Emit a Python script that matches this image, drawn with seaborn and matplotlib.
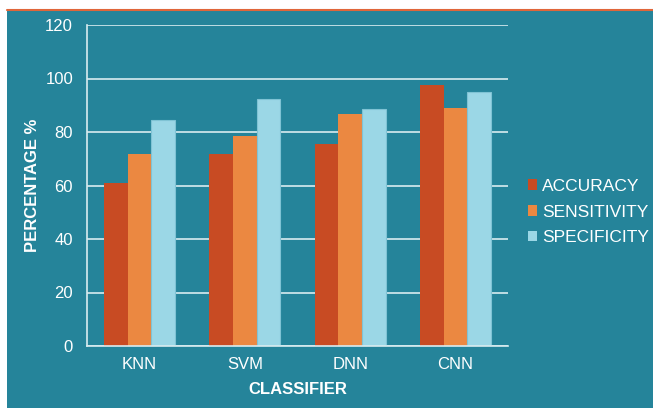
import matplotlib
matplotlib.use("Agg")
import matplotlib.pyplot as plt
import seaborn as sns
import pandas as pd
from matplotlib.patches import Rectangle, Patch
from matplotlib.lines import Line2D

classifiers = ["KNN", "SVM", "DNN", "CNN"]
metrics = ["ACCURACY", "SENSITIVITY", "SPECIFICITY"]
accuracy = [60.8, 71.6, 75.4, 97.4]
sensitivity = [71.9, 78.4, 86.6, 89.1]
specificity = [84.5, 92.3, 88.5, 94.8]
y_ticks = [0, 20, 40, 60, 80, 100, 120]

teal = "#25849A"
colors = ["#C84B23", "#EB8841", "#9BD7E6"]
light = "#D9ECF0"

df = pd.DataFrame({
    "Classifier": classifiers * 3,
    "Metric": [m for m in metrics for _ in classifiers],
    "Value": accuracy + sensitivity + specificity,
})

sns.set_theme(style="white")
plt.rcParams['font.family'] = ['Liberation Sans', 'DejaVu Sans']

W, H = 653, 408
fig = plt.figure(figsize=(W / 100, H / 100), dpi=100)
fig.patch.set_facecolor("white")
fig.patches.append(Rectangle((7 / W, 0), 1 - 7 / W, 1 - 10 / H, transform=fig.transFigure,
                             facecolor=teal, edgecolor="none", zorder=-10))
fig.lines.append(Line2D([7 / W, 1], [1 - 10 / H, 1 - 10 / H], transform=fig.transFigure,
                        color="#E0663A", lw=1.5))

left, right, top, bottom = 87, 508, 25, 346
ax = fig.add_axes([left / W, 1 - bottom / H, (right - left) / W, (bottom - top) / H])
ax.set_facecolor("none")

sns.barplot(data=df, x="Classifier", y="Value", hue="Metric", palette=colors,
            width=0.675, ax=ax, linewidth=0, saturation=1, legend=False)
for p in ax.patches:
    if p.get_facecolor()[:3] == matplotlib.colors.to_rgb(colors[2]):
        p.set_edgecolor("#7FC3D4")
        p.set_linewidth(0.8)

ax.set_ylim(0, 120)
ax.set_xlim(-0.5, 3.5)
ax.set_yticks(y_ticks)
ax.yaxis.grid(True, color=light, lw=1.2)
ax.set_axisbelow(True)
for s in ["top", "right"]:
    ax.spines[s].set_visible(False)
for s in ["left", "bottom"]:
    ax.spines[s].set_color(light)
    ax.spines[s].set_linewidth(1.2)

ax.set_xticks([-0.5, 0.5, 1.5, 2.5, 3.5], minor=True)
ax.tick_params(axis="x", which="minor", length=5, color=light, width=1, direction="out")
ax.tick_params(axis="x", which="major", length=0, labelcolor="white", labelsize=12, pad=8)
ax.tick_params(axis="y", length=4, color=light, width=1, labelcolor="white", labelsize=12, pad=6)

ax.set_xlabel("CLASSIFIER", fontweight="bold", color="white", fontsize=12, labelpad=7)
ax.set_ylabel("PERCENTAGE %", fontweight="bold", color="white", fontsize=12, labelpad=4)

handles = [Patch(facecolor=c, edgecolor="none") for c in colors]
fig.legend(handles, metrics, loc="center left", bbox_to_anchor=(512 / W, 1 - 212 / H),
           frameon=False, labelcolor="white", fontsize=12.5, handlelength=0.55,
           handleheight=0.55, handletextpad=0.3, labelspacing=0.62)

fig.savefig("out.png", dpi=100, facecolor=fig.get_facecolor())
